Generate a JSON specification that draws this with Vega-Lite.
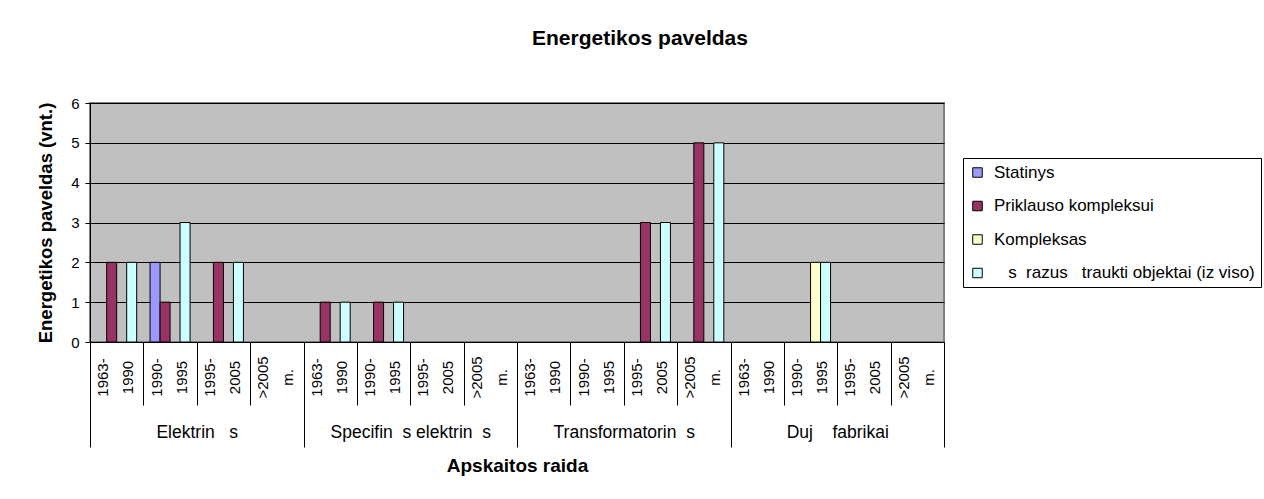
{
  "$schema": "https://vega.github.io/schema/vega-lite/v6.json",
  "width": 854,
  "height": 239,
  "autosize": {"type": "none"},
  "padding": {"left": 90, "top": 103, "right": 320, "bottom": 157},
  "background": "white",
  "config": {
    "font": "Liberation Sans",
    "view": {"fill": "#C0C0C0", "stroke": "#808080", "strokeWidth": 2},
    "axis": {"labelFont": "Liberation Sans", "titleFont": "Liberation Sans", "labelColor": "black", "titleColor": "black", "domainColor": "black", "tickColor": "black", "domainWidth": 1, "tickWidth": 1}
  },
  "title": {"text": "Energetikos paveldas", "font": "Liberation Sans", "fontSize": 21, "fontWeight": "bold", "color": "black", "anchor": "middle", "frame": "group", "dx": 123, "offset": 47},
  "layer": [
    {
      "data": {"values": [
        {"cat": "E|1963-~1990", "series": "Priklauso kompleksui", "value": 2},
        {"cat": "E|1963-~1990", "series": "\u200b\u00a0\u00a0\u00a0s\u00a0\u00a0razus\u00a0\u00a0\u00a0traukti objektai (iz viso)", "value": 2},
        {"cat": "E|1990-~1995", "series": "Statinys", "value": 2},
        {"cat": "E|1990-~1995", "series": "Priklauso kompleksui", "value": 1},
        {"cat": "E|1990-~1995", "series": "\u200b\u00a0\u00a0\u00a0s\u00a0\u00a0razus\u00a0\u00a0\u00a0traukti objektai (iz viso)", "value": 3},
        {"cat": "E|1995-~2005", "series": "Priklauso kompleksui", "value": 2},
        {"cat": "E|1995-~2005", "series": "\u200b\u00a0\u00a0\u00a0s\u00a0\u00a0razus\u00a0\u00a0\u00a0traukti objektai (iz viso)", "value": 2},
        {"cat": "S|1963-~1990", "series": "Priklauso kompleksui", "value": 1},
        {"cat": "S|1963-~1990", "series": "\u200b\u00a0\u00a0\u00a0s\u00a0\u00a0razus\u00a0\u00a0\u00a0traukti objektai (iz viso)", "value": 1},
        {"cat": "S|1990-~1995", "series": "Priklauso kompleksui", "value": 1},
        {"cat": "S|1990-~1995", "series": "\u200b\u00a0\u00a0\u00a0s\u00a0\u00a0razus\u00a0\u00a0\u00a0traukti objektai (iz viso)", "value": 1},
        {"cat": "T|1995-~2005", "series": "Priklauso kompleksui", "value": 3},
        {"cat": "T|1995-~2005", "series": "\u200b\u00a0\u00a0\u00a0s\u00a0\u00a0razus\u00a0\u00a0\u00a0traukti objektai (iz viso)", "value": 3},
        {"cat": "T|>2005~m.", "series": "Priklauso kompleksui", "value": 5},
        {"cat": "T|>2005~m.", "series": "\u200b\u00a0\u00a0\u00a0s\u00a0\u00a0razus\u00a0\u00a0\u00a0traukti objektai (iz viso)", "value": 5},
        {"cat": "D|1990-~1995", "series": "Kompleksas", "value": 2},
        {"cat": "D|1990-~1995", "series": "\u200b\u00a0\u00a0\u00a0s\u00a0\u00a0razus\u00a0\u00a0\u00a0traukti objektai (iz viso)", "value": 2}
      ]},
      "mark": {"type": "bar", "stroke": "black", "strokeWidth": 1},
      "encoding": {
        "x": {
          "field": "cat", "type": "nominal",
          "scale": {"domain": ["E|1963-~1990", "E|1990-~1995", "E|1995-~2005", "E|>2005~m.", "S|1963-~1990", "S|1990-~1995", "S|1995-~2005", "S|>2005~m.", "T|1963-~1990", "T|1990-~1995", "T|1995-~2005", "T|>2005~m.", "D|1963-~1990", "D|1990-~1995", "D|1995-~2005", "D|>2005~m."], "paddingInner": 0, "paddingOuter": 0},
          "axis": {"orient": "bottom", "title": null, "tickBand": "extent", "tickSize": 63, "labelAngle": -90, "labelAlign": "center", "labelBaseline": "middle", "labelPadding": -28, "labelOffset": -14, "labelFontSize": 15, "labelLineHeight": 25, "labelOverlap": false, "labelExpr": "datum.value ? split(split(datum.value, '|')[1], '~') : ''", "grid": false}
        },
        "xOffset": {
          "field": "series", "type": "nominal",
          "scale": {"domain": ["Statinys", "Priklauso kompleksui", "Kompleksas", "\u200b\u00a0\u00a0\u00a0s\u00a0\u00a0razus\u00a0\u00a0\u00a0traukti objektai (iz viso)"], "paddingInner": 0, "paddingOuter": 0.67}
        },
        "y": {
          "field": "value", "type": "quantitative",
          "scale": {"domain": [0, 6], "nice": false},
          "axis": {"title": "Energetikos paveldas (vnt.)", "titleFontSize": 18.5, "titleFontWeight": "bold", "titlePadding": 15, "values": [0, 1, 2, 3, 4, 5, 6], "grid": true, "gridColor": "black", "gridOpacity": 1, "gridWidth": 1, "tickSize": 5, "labelPadding": 6, "labelFontSize": 15}
        },
        "fill": {
          "field": "series", "type": "nominal",
          "scale": {"domain": ["Statinys", "Priklauso kompleksui", "Kompleksas", "\u200b\u00a0\u00a0\u00a0s\u00a0\u00a0razus\u00a0\u00a0\u00a0traukti objektai (iz viso)"], "range": ["#9999FF", "#993366", "#FFFFCC", "#CCFFFF"]},
          "legend": {"title": null, "orient": "none", "legendX": 873, "legendY": 55, "symbolType": "square", "symbolSize": 90, "symbolStrokeColor": "black", "symbolStrokeWidth": 1, "symbolOpacity": 1, "labelFont": "Liberation Sans", "labelFontSize": 17, "labelColor": "black", "labelOffset": 8, "labelLimit": 400, "rowPadding": 15.5, "padding": 6, "strokeColor": "black", "fillColor": "white"}
        }
      }
    },
    {
      "data": {"values": [
        {"group": "Elektrin\u00a0\u00a0\u00a0s"},
        {"group": "Specifin\u00a0\u00a0s elektrin\u00a0\u00a0s"},
        {"group": "Transformatorin\u00a0\u00a0s"},
        {"group": "Duj\u00a0\u00a0\u00a0\u00a0fabrikai"}
      ]},
      "mark": {"type": "rule", "opacity": 0},
      "encoding": {
        "x": {
          "field": "group", "type": "nominal",
          "scale": {"domain": ["Elektrin\u00a0\u00a0\u00a0s", "Specifin\u00a0\u00a0s elektrin\u00a0\u00a0s", "Transformatorin\u00a0\u00a0s", "Duj\u00a0\u00a0\u00a0\u00a0fabrikai"], "paddingInner": 0, "paddingOuter": 0},
          "axis": {"orient": "bottom", "domain": false, "tickBand": "extent", "tickSize": 105, "labelAngle": 0, "labelAlign": "center", "labelBaseline": "top", "labelPadding": -24, "labelFontSize": 17.5, "labelOverlap": false, "grid": false, "title": "Apskaitos raida", "titleFontSize": 19, "titleFontWeight": "bold", "titlePadding": 9}
        }
      }
    }
  ],
  "resolve": {"scale": {"x": "independent"}, "axis": {"x": "independent"}}
}
